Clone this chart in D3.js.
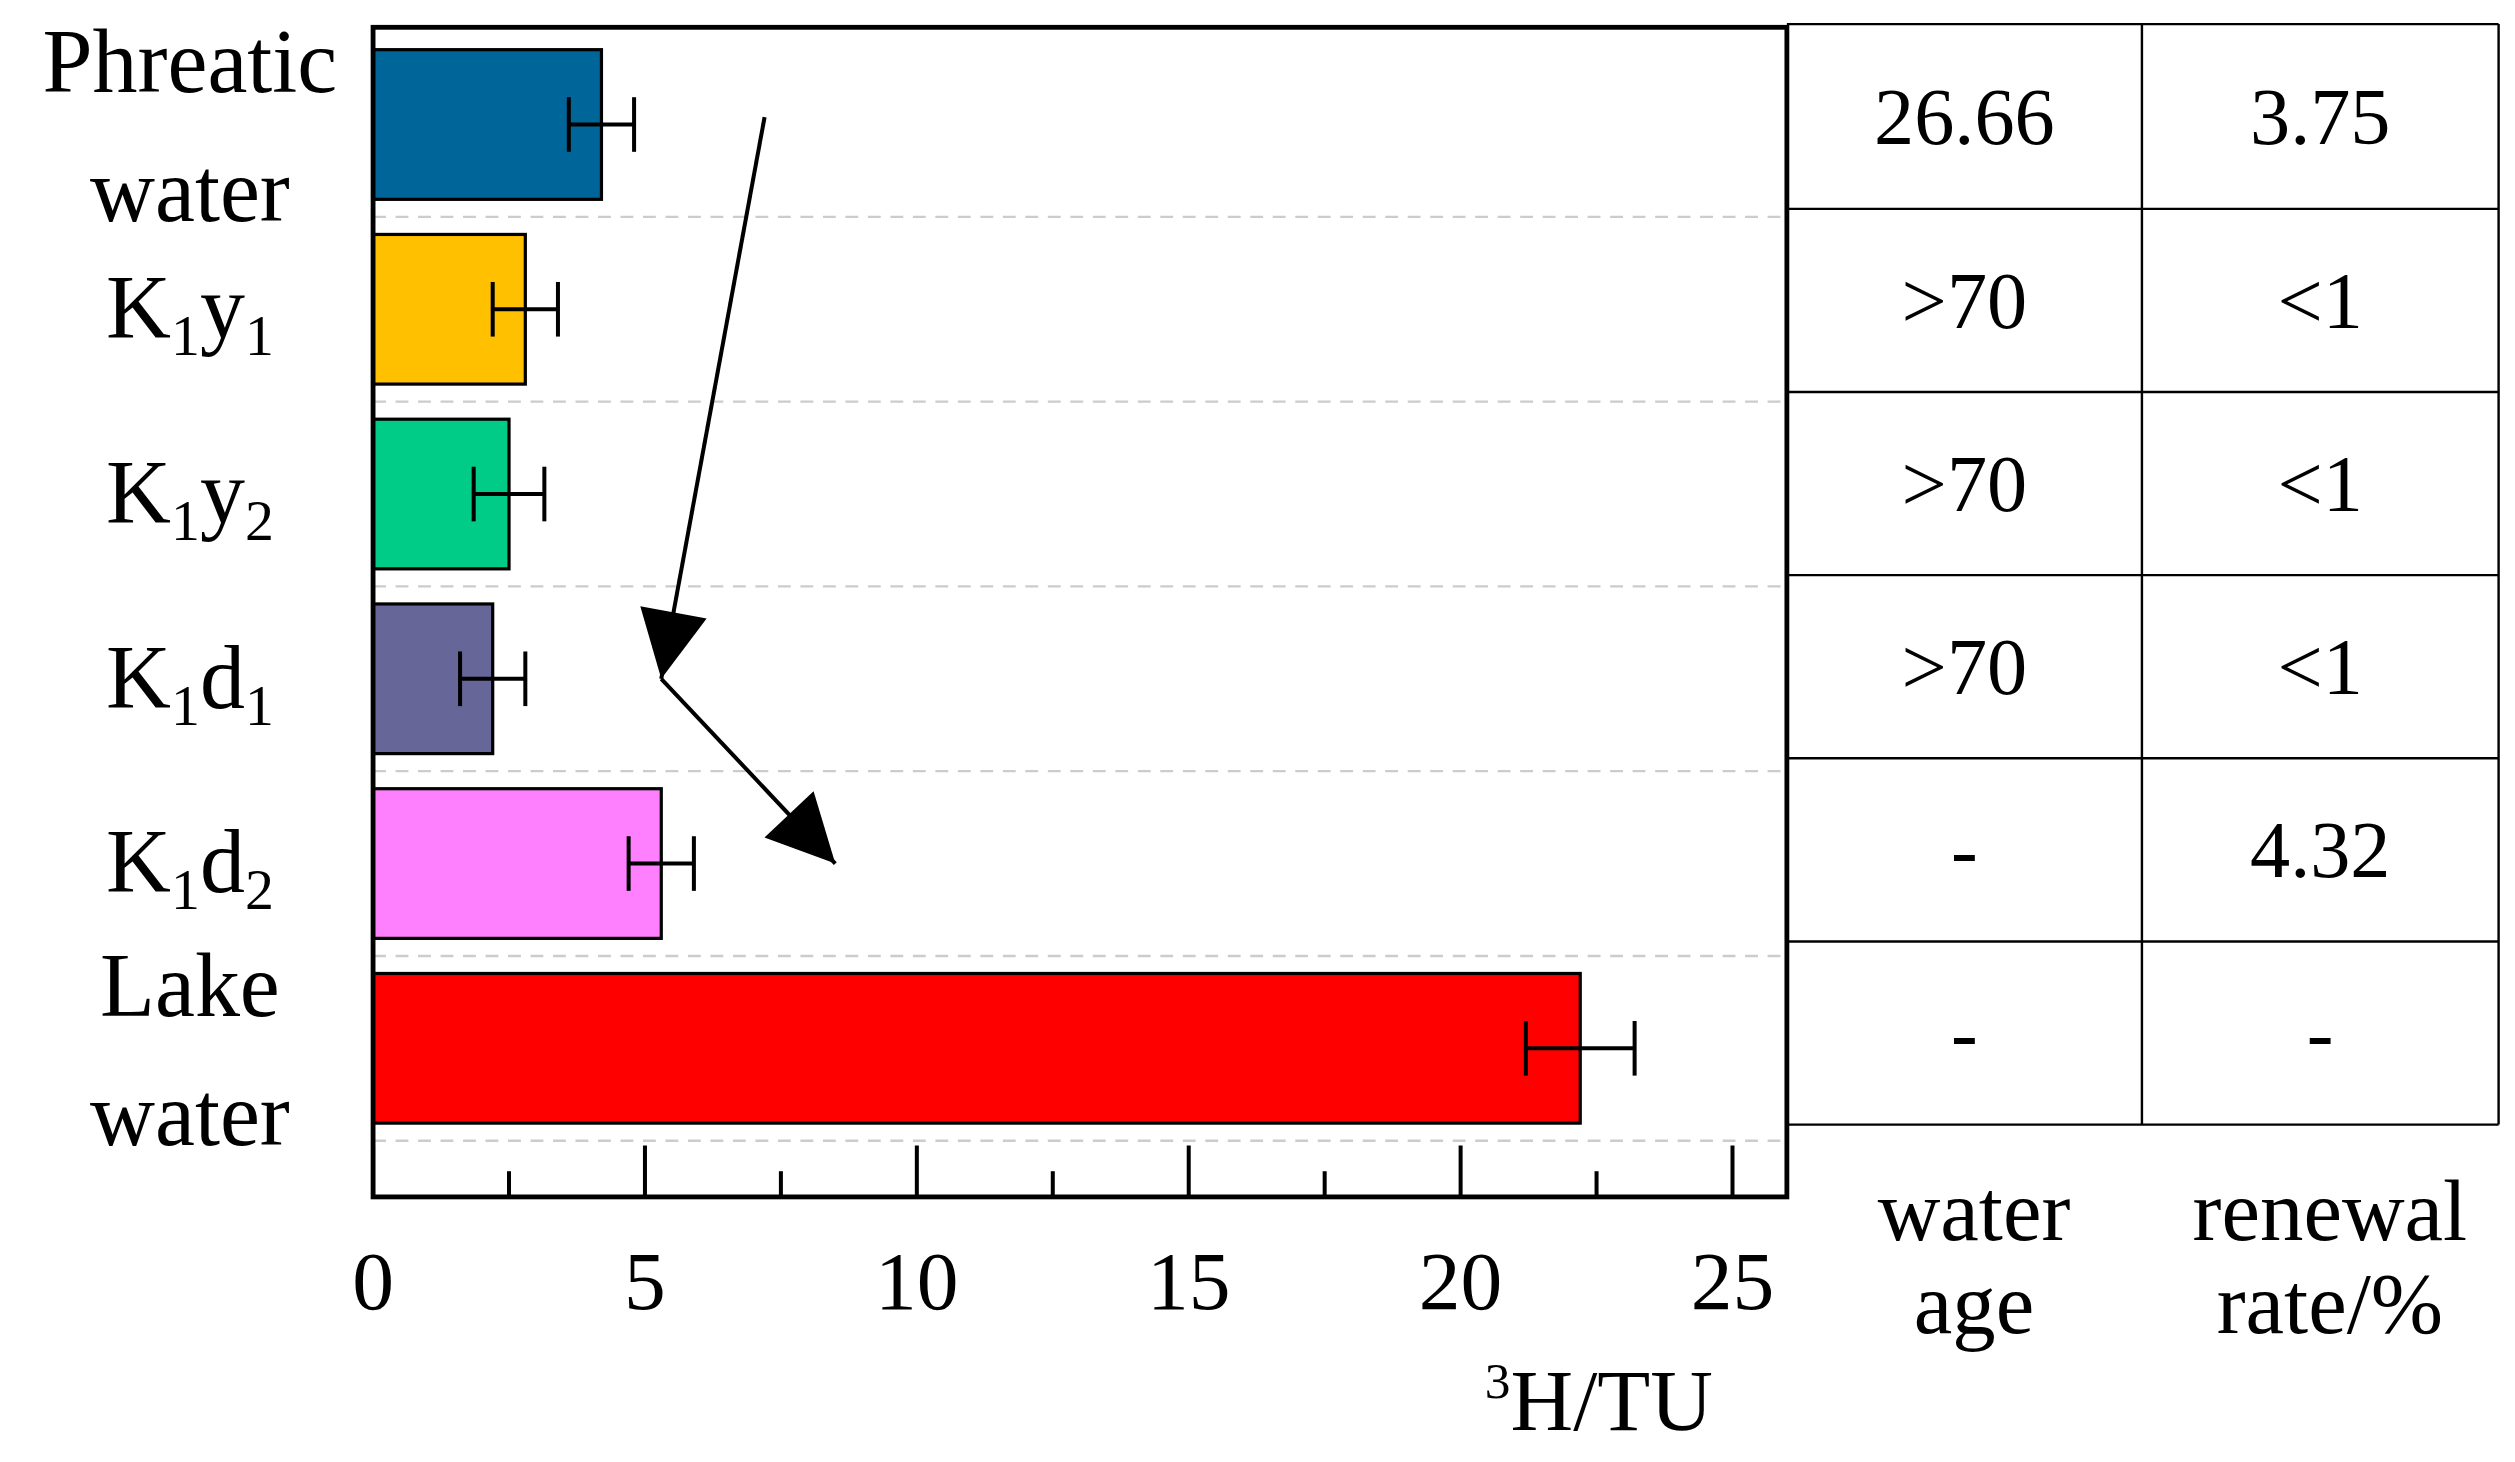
<!DOCTYPE html>
<html><head><meta charset="utf-8">
<script src="https://cdn.jsdelivr.net/npm/d3@7"></script>
<style>body{margin:0;background:#fff}</style>
</head><body><div id="chart"></div>
<script>
// categories drawn as label parts: [text, isSubscript]
var categories = ["Phreatic water", "K1y1", "K1y2", "K1d1", "K1d2", "Lake water"];
var labelParts = [
  [["Phreatic", 0]], [["K", 0], ["1", 1], ["y", 0], ["1", 1]], [["K", 0], ["1", 1], ["y", 0], ["2", 1]],
  [["K", 0], ["1", 1], ["d", 0], ["1", 1]], [["K", 0], ["1", 1], ["d", 0], ["2", 1]], [["Lake", 0]]
];
var secondLine = ["water", null, null, null, null, "water"];
var tritium = [4.2, 2.8, 2.5, 2.2, 5.3, 22.2];
var errors = [0.6, 0.6, 0.65, 0.6, 0.6, 1.0];
var colors = ["#006699", "#ffc000", "#00cc88", "#666699", "#ff80ff", "#ff0000"];
var waterAge = ["26.66", ">70", ">70", ">70", "-", "-"];
var renewal = ["3.75", "<1", "<1", "<1", "4.32", "-"];
var xTicks = [0, 5, 10, 15, 20, 25];
// arrow path in data units: [x value, category, offset within band]
var arrowPts = [[7.2, 0, -0.05], [5.3, 3, 0.0], [8.5, 4, 0.0]];

var W = 1565, H = 910;
var svg = d3.select("#chart").append("svg")
  .attr("width", 2515).attr("height", 1462)
  .attr("viewBox", "0 0 " + W + " " + H)
  .style("font-family", "'Liberation Serif', serif");

var pLeft = 232, pRight = 1112, pTop = 17, pBottom = 745;
var x = d3.scaleLinear().domain([0, 26]).range([pLeft, pRight]);
var y = d3.scaleBand().domain(categories).range([20, 710]).paddingInner(0.19).paddingOuter(0.095);
var gap = (y.step() - y.bandwidth()) / 2;

// dashed separators
svg.selectAll("line.sep").data(categories).join("line")
  .attr("x1", pLeft).attr("x2", pRight)
  .attr("y1", function (c) { return y(c) + y.bandwidth() + gap; })
  .attr("y2", function (c) { return y(c) + y.bandwidth() + gap; })
  .attr("stroke", "#cccccc").attr("stroke-width", 1.5).attr("stroke-dasharray", "8,6");

// bars
svg.selectAll("rect.bar").data(categories).join("rect")
  .attr("x", x(0)).attr("y", function (c) { return y(c); })
  .attr("width", function (c, i) { return x(tritium[i]) - x(0); })
  .attr("height", y.bandwidth())
  .attr("fill", function (c, i) { return colors[i]; })
  .attr("stroke", "#000").attr("stroke-width", 2);

// error bars
var eb = svg.selectAll("g.eb").data(categories).join("g")
  .attr("transform", function (c) { return "translate(0," + (y(c) + y.bandwidth() / 2) + ")"; });
eb.append("line").attr("x1", function (c, i) { return x(tritium[i] - errors[i]); })
  .attr("x2", function (c, i) { return x(tritium[i] + errors[i]); }).attr("stroke", "#000").attr("stroke-width", 2.5);
eb.append("line").attr("x1", function (c, i) { return x(tritium[i] - errors[i]); })
  .attr("x2", function (c, i) { return x(tritium[i] - errors[i]); }).attr("y1", -17).attr("y2", 17).attr("stroke", "#000").attr("stroke-width", 2.5);
eb.append("line").attr("x1", function (c, i) { return x(tritium[i] + errors[i]); })
  .attr("x2", function (c, i) { return x(tritium[i] + errors[i]); }).attr("y1", -17).attr("y2", 17).attr("stroke", "#000").attr("stroke-width", 2.5);

// frame
svg.append("rect").attr("x", pLeft).attr("y", pTop).attr("width", pRight - pLeft).attr("height", pBottom - pTop)
  .attr("fill", "none").attr("stroke", "#000").attr("stroke-width", 3);

// x axis with inward ticks
var minor = d3.range(0, 26, 2.5);
svg.selectAll("line.tk").data(minor).join("line")
  .attr("x1", function (d) { return x(d); }).attr("x2", function (d) { return x(d); })
  .attr("y1", pBottom).attr("y2", function (d) { return d % 5 === 0 ? pBottom - 32 : pBottom - 16; })
  .attr("stroke", "#000").attr("stroke-width", 2.5);
svg.selectAll("text.tl").data(xTicks).join("text")
  .attr("x", function (d) { return x(d); }).attr("y", 815).attr("text-anchor", "middle")
  .attr("font-size", 52).text(function (d) { return d; });
var xl = svg.append("text").attr("x", 995).attr("y", 890).attr("text-anchor", "middle").attr("font-size", 54);
xl.append("tspan").attr("font-size", 32).attr("dy", -20).text("3");
xl.append("tspan").attr("dy", 20).text("H/TU");

// category labels
var cx = 118;
categories.forEach(function (c, i) {
  var cy = y(c) + y.bandwidth() / 2;
  var two = secondLine[i] !== null;
  var t = svg.append("text").attr("x", cx).attr("y", two ? cy - 20 : cy + 18)
    .attr("text-anchor", "middle").attr("font-size", 56);
  labelParts[i].forEach(function (p) {
    var s = t.append("tspan").text(p[0]);
    if (p[1]) s.attr("font-size", 36).attr("baseline-shift", "-30%");
  });
  if (two) svg.append("text").attr("x", cx).attr("y", cy + 60).attr("text-anchor", "middle")
    .attr("font-size", 56).text(secondLine[i]);
});

// arrows
var ap = arrowPts.map(function (p) { return [x(p[0]), y(categories[p[1]]) + y.bandwidth() * (0.5 + p[2])]; });
svg.append("defs").append("marker").attr("id", "ah").attr("viewBox", "0 0 10 10")
  .attr("refX", 10).attr("refY", 5).attr("markerWidth", 85).attr("markerHeight", 42)
  .attr("markerUnits", "userSpaceOnUse").attr("orient", "auto")
  .append("path").attr("d", "M0,0 L10,5 L0,10 Z").attr("fill", "#000");
svg.append("line").attr("x1", ap[0][0]).attr("y1", ap[0][1]).attr("x2", ap[1][0]).attr("y2", ap[1][1])
  .attr("stroke", "#000").attr("stroke-width", 2.5).attr("marker-end", "url(#ah)");
svg.append("line").attr("x1", ap[1][0]).attr("y1", ap[1][1]).attr("x2", ap[2][0]).attr("y2", ap[2][1])
  .attr("stroke", "#000").attr("stroke-width", 2.5).attr("marker-end", "url(#ah)");

// table
var tx = [1112, 1333, 1555];
var rowEdges = [15, 130, 244, 358, 472, 586, 700];
svg.selectAll("line.row").data(rowEdges).join("line")
  .attr("x1", tx[0]).attr("x2", tx[2]).attr("y1", function (d) { return d; }).attr("y2", function (d) { return d; })
  .attr("stroke", "#000").attr("stroke-width", 1.5);
[tx[1], tx[2]].forEach(function (v) {
  svg.append("line").attr("x1", v).attr("x2", v).attr("y1", 15).attr("y2", 700).attr("stroke", "#000").attr("stroke-width", 1.5);
});
[waterAge, renewal].forEach(function (col, j) {
  svg.selectAll("text.c" + j).data(col).join("text")
    .attr("x", (tx[j] + tx[j + 1]) / 2)
    .attr("y", function (d, i) { return (rowEdges[i] + rowEdges[i + 1]) / 2 + 17; })
    .attr("text-anchor", "middle").attr("font-size", 50).text(function (d) { return d; });
});
[["water", "age"], ["renewal", "rate/%"]].forEach(function (h, j) {
  h.forEach(function (s, k) {
    svg.append("text").attr("x", (tx[j] + tx[j + 1]) / 2 + 6).attr("y", 772 + k * 58)
      .attr("text-anchor", "middle").attr("font-size", 54).text(s);
  });
});
</script></body></html>
